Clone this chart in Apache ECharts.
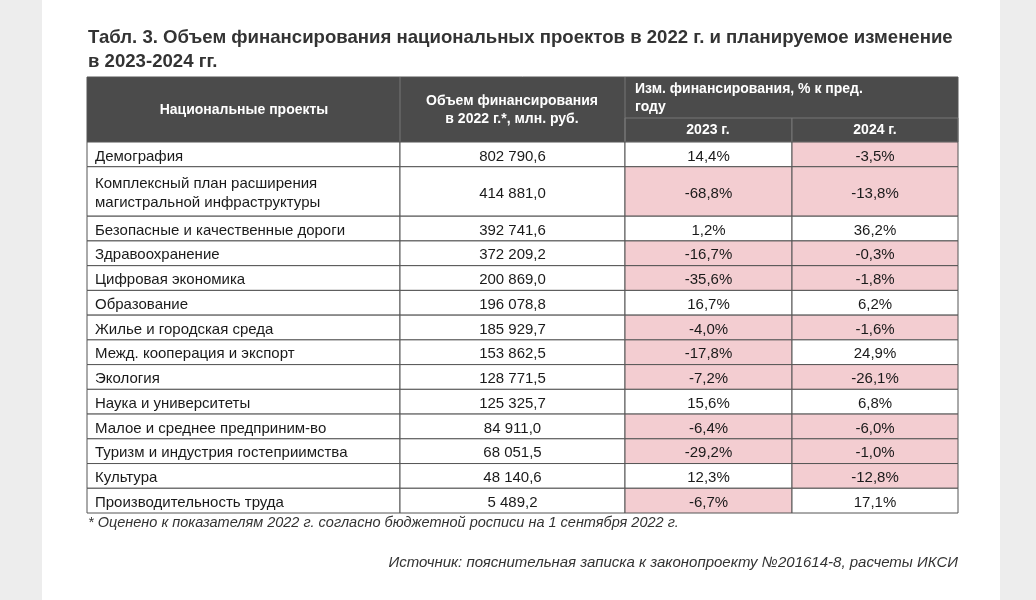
<!DOCTYPE html>
<html>
<head>
<meta charset="utf-8">
<script src="https://cdn.jsdelivr.net/npm/echarts@6/dist/echarts.min.js"></script>
<style>
  html, body { margin: 0; padding: 0; background: #ededed; }
  #panel { position: absolute; left: 42px; top: 0; width: 958px; height: 600px; background: #fff; }
  #chart { position: absolute; left: 0; top: 0; width: 1036px; height: 600px; }
</style>
</head>
<body>
<div id="panel"></div>
<div id="chart"></div>
<script>
// данные таблицы
const projects = [
  'Демография',
  'Комплексный план расширения\nмагистральной инфраструктуры',
  'Безопасные и качественные дороги',
  'Здравоохранение',
  'Цифровая экономика',
  'Образование',
  'Жилье и городская среда',
  'Межд. кооперация и экспорт',
  'Экология',
  'Наука и университеты',
  'Малое и среднее предприним-во',
  'Туризм и индустрия гостеприимства',
  'Культура',
  'Производительность труда'
]
const funding2022 = [802790.6, 414881.0, 392741.6, 372209.2, 200869.0, 196078.8, 185929.7,
  153862.5, 128771.5, 125325.7, 84911.0, 68051.5, 48140.6, 5489.2]
const change2023 = [14.4, -68.8, 1.2, -16.7, -35.6, 16.7, -4.0, -17.8, -7.2, 15.6, -6.4, -29.2, 12.3, -6.7]
const change2024 = [-3.5, -13.8, 36.2, -0.3, -1.8, 6.2, -1.6, 24.9, -26.1, 6.8, -6.0, -1.0, -12.8, 17.1]

// раскладка
const colEdges = [0, 313, 538, 705, 871]
const lineCount = projects.map(p => p.split('\n').length)
const rowStart = []
lineCount.reduce((acc, n, i) => { rowStart[i] = acc; return acc + n }, 0)
const totalLines = lineCount.reduce((a, b) => a + b, 0)

const fmtNum = v => {
  const [a, b] = v.toFixed(1).split('.')
  return a.replace(/\B(?=(\d{3})+(?!\d))/g, ' ') + ',' + b
}
const fmtPct = v => v.toFixed(1).replace('.', ',') + '%'

const font = '"Liberation Sans", Arial, sans-serif'
const border = '#555'
const pink = '#f3cdd1'
const headBg = '#4b4b4b'

const renderRow = (params, api) => {
  const i = api.value(0)
  const s = rowStart[i], n = lineCount[i]
  const y0 = api.coord([0, s])[1]
  const y1 = api.coord([0, s + n])[1]
  const xs = colEdges.map(e => api.coord([e, s])[0])
  const texts = [projects[i], fmtNum(funding2022[i]), fmtPct(change2023[i]), fmtPct(change2024[i])]
  const vals = [null, null, change2023[i], change2024[i]]
  const children = []
  for (let c = 0; c < 4; c++) {
    children.push({
      type: 'rect',
      shape: { x: xs[c], y: y0, width: xs[c + 1] - xs[c], height: y1 - y0 },
      style: { fill: vals[c] !== null && vals[c] < 0 ? pink : '#fff', stroke: border, lineWidth: 1 }
    })
    children.push({
      type: 'text',
      style: {
        text: texts[c],
        x: c === 0 ? xs[c] + 8 : (xs[c] + xs[c + 1]) / 2,
        y: (y0 + y1) / 2 + 2,
        align: c === 0 ? 'left' : 'center',
        verticalAlign: 'middle',
        font: '15px ' + font,
        lineHeight: 19,
        fill: '#1a1a1a'
      }
    })
  }
  return { type: 'group', children }
}

const headText = (text, x, y, align) => ({
  type: 'text', x, y,
  style: { text, font: 'bold 14px ' + font, fill: '#fff', align: align || 'center', verticalAlign: 'middle', lineHeight: 18 }
})

const chart = echarts.init(document.getElementById('chart'))
chart.setOption({
  animation: false,
  grid: { left: 87, right: 78, top: 142, bottom: 87 },
  xAxis: { type: 'value', min: 0, max: colEdges[4], show: false },
  yAxis: { type: 'value', min: 0, max: totalLines, inverse: true, show: false },
  graphic: [
    { type: 'text', left: 88, top: 26,
      style: { text: 'Табл. 3. Объем финансирования национальных проектов в 2022 г. и планируемое изменение\nв 2023-2024 гг.',
        font: 'bold 18.6px ' + font, fill: '#333', lineHeight: 24 } },
    { type: 'rect', shape: { x: 87, y: 77, width: 871, height: 65 }, style: { fill: headBg, stroke: border } },
    { type: 'rect', shape: { x: 625, y: 118, width: 167, height: 24 }, style: { fill: headBg, stroke: '#777' } },
    { type: 'rect', shape: { x: 792, y: 118, width: 166, height: 24 }, style: { fill: headBg, stroke: '#777' } },
    { type: 'line', shape: { x1: 400, y1: 77, x2: 400, y2: 142 }, style: { stroke: '#777' } },
    { type: 'line', shape: { x1: 625, y1: 77, x2: 625, y2: 142 }, style: { stroke: '#777' } },
    headText('Национальные проекты', 244, 110),
    headText('Объем финансирования\nв 2022 г.*, млн. руб.', 512, 110),
    headText('Изм. финансирования, % к пред.\nгоду', 635, 98, 'left'),
    headText('2023 г.', 708, 130),
    headText('2024 г.', 875, 130),
    { type: 'text', left: 88, top: 515,
      style: { text: '* Оценено к показателям 2022 г. согласно бюджетной росписи на 1 сентября 2022 г.',
        font: 'italic 14.5px ' + font, fill: '#333' } },
    { type: 'text', right: 78, top: 555,
      style: { text: 'Источник: пояснительная записка к законопроекту №201614-8, расчеты ИКСИ',
        font: 'italic 15px ' + font, fill: '#333' } }
  ],
  series: [{
    type: 'custom',
    renderItem: renderRow,
    encode: { x: -1, y: 0 },
    data: projects.map((p, i) => [i])
  }]
})
</script>
</body>
</html>
